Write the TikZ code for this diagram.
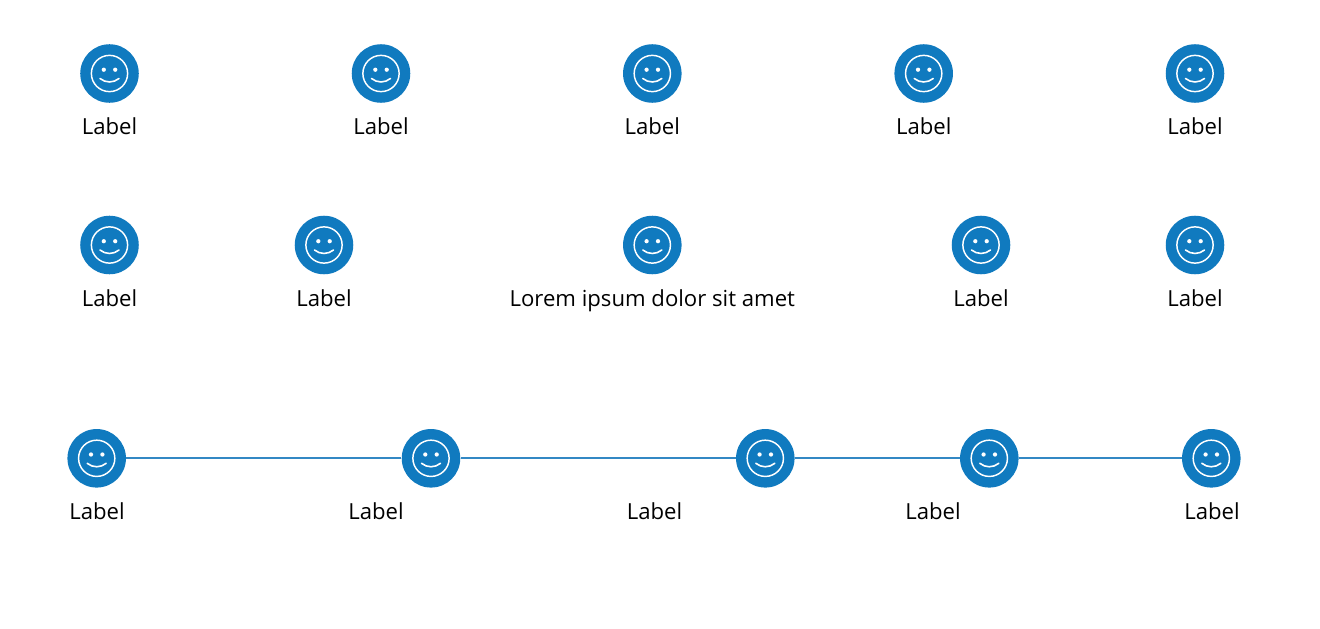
\documentclass[tikz,border=0pt]{standalone}
\usepackage{fontspec}
\setmainfont{Open Sans}
\definecolor{iconblue}{HTML}{107ABF}
\definecolor{lineblue}{HTML}{3288C4}
\tikzset{
  x=0.75pt, y=-0.75pt,
  smiley/.style={circle, fill=iconblue, inner sep=0pt, minimum size=43.9pt,
    path picture={
      \begin{scope}[shift={(path picture bounding box.center)}, draw=white, line width=1.1pt]
        \draw (0,0) circle[radius=13.6pt];
        \fill[white] (-5.7,-3.8) circle[radius=1.6pt] (5.7,-3.8) circle[radius=1.6pt];
        \draw[line cap=round, line width=1.2pt] (-9.5,5) .. controls (-4,9.6) and (4,9.6) .. (9.5,5);
      \end{scope}
    }},
  caption/.style={anchor=base, font=\fontsize{16.6pt}{20pt}\selectfont, inner sep=0pt},
  timeline/.style={lineblue, line width=1.4pt}
}
\begin{document}
\begin{tikzpicture}
  \useasboundingbox (0,0) rectangle (1320,628);
  % first row
  \foreach \n/\xpos in {a/109.5,b/381,c/652.3,d/923.7,e/1195}{
    \node[smiley] (top-\n) at (\xpos,73.5) {};
    \node[caption] (toplabel-\n) at (\xpos,134) {Label};
  }
  % second row
  \foreach \n/\xpos/\txt in {a/109.5/Label,b/324/Label,c/652.3/Lorem ipsum dolor sit amet,d/981/Label,e/1195/Label}{
    \node[smiley] (mid-\n) at (\xpos,245) {};
    \node[caption] (midlabel-\n) at (\xpos,306) {\txt};
  }
  % third row
  \foreach \n/\xpos/\lpos in {a/96.7/97,b/431/376,c/765.3/654.5,d/989.3/933,e/1211.3/1212}{
    \node[smiley] (low-\n) at (\xpos,458.3) {};
    \node[caption] (lowlabel-\n) at (\lpos,519) {Label};
  }
  \path[timeline]
  (low-a) edge (low-b)
  (low-b) edge (low-c)
  (low-c) edge (low-d)
  (low-d) edge (low-e)
  ;
\end{tikzpicture}
\end{document}
